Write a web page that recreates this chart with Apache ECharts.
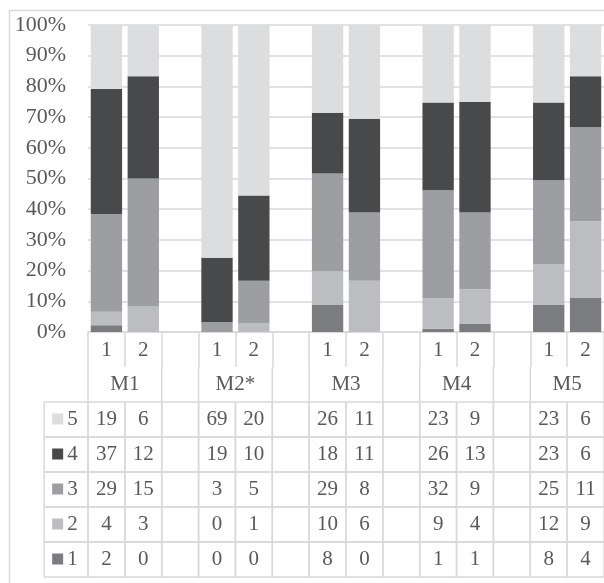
<!DOCTYPE html>
<html>
<head>
<meta charset="utf-8">
<script src="https://cdn.jsdelivr.net/npm/echarts@6/dist/echarts.min.js"></script>
<style>
html, body { margin: 0; padding: 0; background: #fff; }
#main { width: 604px; height: 583px; }
</style>
</head>
<body>
<div id="main"></div>
<script>
// groups on the x axis, each with two sub columns
const groups = ['M1', 'M2*', 'M3', 'M4', 'M5'];
const subCols = ['1', '2'];
// counts per column: M1-1, M1-2, M2*-1, M2*-2, ... M5-2
const rating5 = [19, 6, 69, 20, 26, 11, 23, 9, 23, 6];
const rating4 = [37, 12, 19, 10, 18, 11, 26, 13, 23, 6];
const rating3 = [29, 15, 3, 5, 29, 8, 32, 9, 25, 11];
const rating2 = [4, 3, 0, 1, 10, 6, 9, 4, 12, 9];
const rating1 = [2, 0, 0, 0, 8, 0, 1, 1, 8, 4];
const ratingNames = ['5', '4', '3', '2', '1'];
const ratingColors = ['#dcdddf', '#48494b', '#9d9ea1', '#bcbdc0', '#7b7c7f'];

const LINE = '#d9d9d9';
const TEXT = '#595959';
const FONT = 'Liberation Serif';
const KEY_W = 44 / 37; // width of legend column, in slots

const rows = [rating5, rating4, rating3, rating2, rating1];

// categories: 1, 2, (gap) per group
const categories = [];
const slotOfCol = [];
groups.forEach((g, gi) => {
    subCols.forEach(s => {
        slotOfCol.push(categories.length);
        categories.push(g + '|' + s);
    });
    if (gi < groups.length - 1) categories.push(g + '|');
});

const totals = rating5.map((v, i) => rows.reduce((a, r) => a + r[i], 0));

function toPercent(arr) {
    const out = categories.map(() => null);
    arr.forEach((v, i) => { out[slotOfCol[i]] = v / totals[i] * 100; });
    return out;
}

// stacked bars, bottom is rating 1
const barSeries = [];
for (let k = rows.length - 1; k >= 0; k--) {
    barSeries.push({
        name: ratingNames[k],
        type: 'bar',
        stack: 'all',
        barCategoryGap: '15%',
        xAxisIndex: 0,
        yAxisIndex: 0,
        itemStyle: { color: ratingColors[k] },
        data: toPercent(rows[k])
    });
}

// cells of the table under the chart
const cells = [];
groups.forEach((g, gi) => {
    cells.push({ kind: 'group', x0: gi * 3, x1: gi * 3 + 2, row: 1, text: g });
});
rows.forEach((r, ri) => {
    cells.push({ kind: 'key', x0: -KEY_W, x1: 0, row: ri + 2, text: ratingNames[ri], color: ratingColors[ri] });
    categories.forEach((c, si) => {
        const col = slotOfCol.indexOf(si);
        cells.push({ kind: 'cell', x0: si, x1: si + 1, row: ri + 2, text: col >= 0 ? String(r[col]) : '' });
    });
});

function renderCell(params, api) {
    const c = cells[params.dataIndex];
    const p0 = api.coord([c.x0, c.row]);
    const p1 = api.coord([c.x1, c.row + 1]);
    const ln = (x1, y1, x2, y2) => ({
        type: 'line', shape: { x1: x1, y1: y1, x2: x2, y2: y2 },
        style: { stroke: LINE, lineWidth: 1.5 }
    });
    const children = [ln(p0[0], p0[1], p0[0], p1[1]), ln(p1[0], p0[1], p1[0], p1[1])];
    if (c.kind !== 'group') {
        children.push(ln(p0[0], p0[1], p1[0], p0[1]), ln(p0[0], p1[1], p1[0], p1[1]));
    }
    const cy = (p0[1] + p1[1]) / 2;
    if (c.kind === 'key') {
        children.push({
            type: 'rect', shape: { x: p0[0] + 8, y: cy - 6, width: 11, height: 11 },
            style: { fill: c.color }
        });
        children.push({
            type: 'text', x: p0[0] + 23, y: cy,
            style: { text: c.text, font: '21px "' + FONT + '"', fill: TEXT, align: 'left', verticalAlign: 'middle' }
        });
    } else {
        children.push({
            type: 'text', x: (p0[0] + p1[0]) / 2, y: cy,
            style: { text: c.text, font: '21px "' + FONT + '"', fill: TEXT, align: 'center', verticalAlign: 'middle' }
        });
    }
    return { type: 'group', children: children };
}

const chart = echarts.init(document.getElementById('main'));
chart.setOption({
    animation: false,
    backgroundColor: '#fff',
    graphic: [{
        type: 'rect', left: 7, top: 8, z: -10,
        shape: { width: 640, height: 640 },
        style: { fill: 'none', stroke: LINE, lineWidth: 1.5 }
    }],
    grid: [
        { left: 88, top: 25, width: 518, height: 307 },
        { left: 88, top: 332, width: 518, height: 245 }
    ],
    xAxis: [
        {
            type: 'category', gridIndex: 0, data: categories,
            axisLine: { show: true, lineStyle: { color: LINE, width: 1.5 } },
            axisTick: { show: true, interval: 0, alignWithLabel: false, length: 35, lineStyle: { color: LINE, width: 1.5 } },
            axisLabel: {
                interval: 0, margin: 8, fontFamily: FONT, fontSize: 21, color: TEXT,
                formatter: v => v.split('|')[1]
            }
        },
        { type: 'value', gridIndex: 1, min: 0, max: 14, show: false }
    ],
    yAxis: [
        {
            type: 'value', gridIndex: 0, min: 0, max: 100, interval: 10,
            axisLine: { show: false }, axisTick: { show: false },
            axisLabel: { formatter: '{value}%', margin: 22, fontFamily: FONT, fontSize: 22, color: TEXT },
            splitLine: { lineStyle: { color: LINE, width: 1.5 } }
        },
        { type: 'value', gridIndex: 1, min: 0, max: 7, inverse: true, show: false }
    ],
    tooltip: { trigger: 'axis', axisPointer: { type: 'shadow' } },
    series: barSeries.concat([{
        type: 'custom',
        name: 'table',
        xAxisIndex: 1,
        yAxisIndex: 1,
        clip: false,
        silent: true,
        tooltip: { show: false },
        renderItem: renderCell,
        data: cells.map(c => [c.x0, c.row])
    }])
});
</script>
</body>
</html>
